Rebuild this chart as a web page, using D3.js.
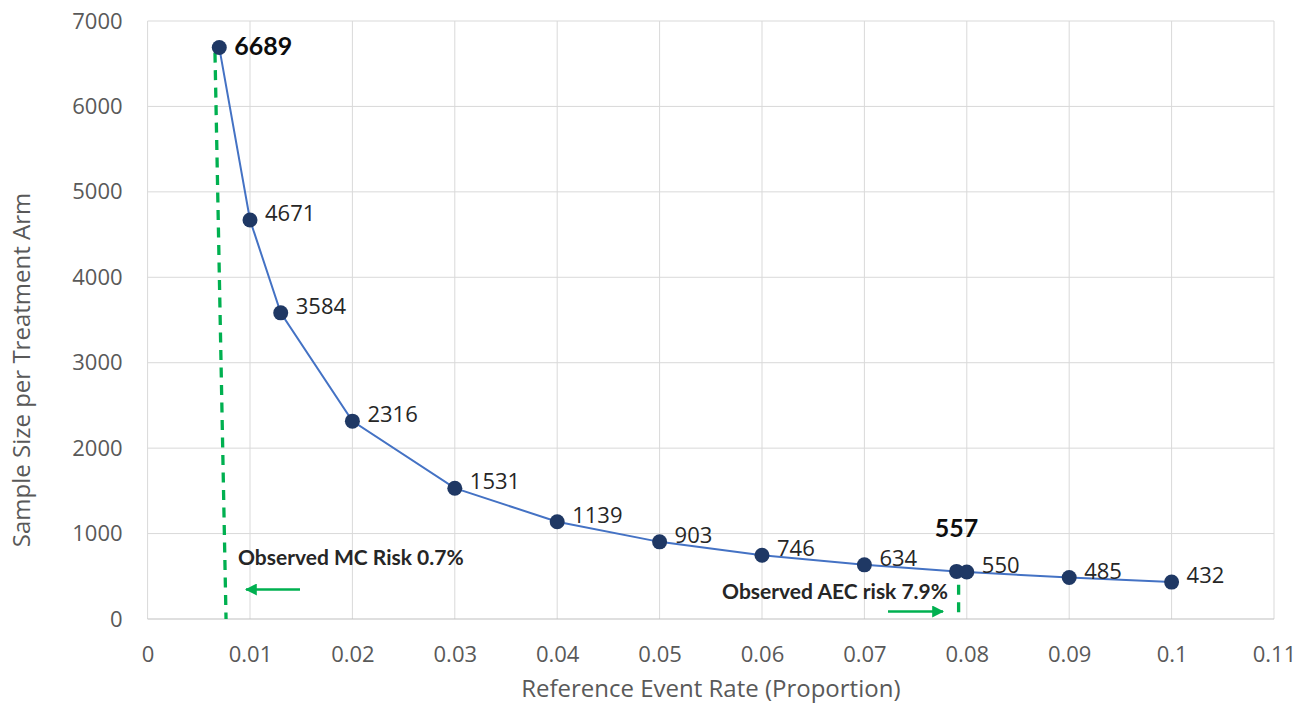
<!DOCTYPE html>
<html><head><meta charset="utf-8">
<script src="https://cdn.jsdelivr.net/npm/d3@7"></script>
<style>body{margin:0;background:#fff;} svg{display:block;font-family:"Open Sans",sans-serif;}</style>
</head><body>
<svg id="c" width="1307" height="703"></svg>
<script>
const rates = [0.007, 0.01, 0.013, 0.02, 0.03, 0.04, 0.05, 0.06, 0.07, 0.079, 0.08, 0.09, 0.1];
const sizes = [6689, 4671, 3584, 2316, 1531, 1139, 903, 746, 634, 557, 550, 485, 432];
const highlighted = [6689, 557];
const xTicks = [0, 0.01, 0.02, 0.03, 0.04, 0.05, 0.06, 0.07, 0.08, 0.09, 0.1, 0.11];
const xTickLabels = ["0", "0.01", "0.02", "0.03", "0.04", "0.05", "0.06", "0.07", "0.08", "0.09", "0.1", "0.11"];
const yTicks = [0, 1000, 2000, 3000, 4000, 5000, 6000, 7000];
const mcLine = [[0.00658, 6630], [0.00766, 0]];
const aecLine = [[0.0792, 400], [0.0792, 0]];

const svg = d3.select("#c");
const L = 147.6, R = 1274, T = 21, B = 619;
const x = d3.scaleLinear().domain([0, 0.11]).range([L, R]);
const y = d3.scaleLinear().domain([0, 7000]).range([B, T]);
const green = "#00b050";

// grid
svg.append("g").selectAll("line").data(yTicks.filter(d => d > 0)).join("line")
  .attr("x1", L).attr("x2", R).attr("y1", d => y(d)).attr("y2", d => y(d))
  .attr("stroke", "#d9d9d9").attr("stroke-width", 1);
svg.append("g").selectAll("line").data(xTicks).join("line")
  .attr("x1", d => x(d)).attr("x2", d => x(d)).attr("y1", T).attr("y2", B)
  .attr("stroke", "#d9d9d9").attr("stroke-width", 1);
svg.append("line").attr("x1", L).attr("x2", R).attr("y1", B).attr("y2", B)
  .attr("stroke", "#bfbfbf").attr("stroke-width", 1.2);

// axes
const xAxis = d3.axisBottom(x).tickValues(xTicks).tickFormat((d, i) => xTickLabels[i]).tickSize(0).tickPadding(27);
const gx = svg.append("g").attr("transform", `translate(0,${B})`).call(xAxis);
gx.select(".domain").remove();
gx.selectAll("text").attr("font-size", 22).attr("fill", "#595959").attr("font-family", "'Open Sans',sans-serif");
const yAxis = d3.axisLeft(y).tickValues(yTicks).tickFormat(d3.format("d")).tickSize(0).tickPadding(25);
const gy = svg.append("g").attr("transform", `translate(${L},0)`).call(yAxis);
gy.select(".domain").remove();
gy.selectAll("text").attr("font-size", 22).attr("fill", "#595959").attr("font-family", "'Open Sans',sans-serif");

svg.append("text").attr("x", (L + R) / 2).attr("y", 697).attr("text-anchor", "middle")
  .attr("font-size", 24).attr("fill", "#595959").text("Reference Event Rate (Proportion)");
svg.append("text").attr("transform", `translate(30,370) rotate(-90)`).attr("text-anchor", "middle")
  .attr("font-size", 24).attr("fill", "#595959").text("Sample Size per Treatment Arm");

// green dashed lines
const gl = d3.line().x(d => x(d[0])).y(d => y(d[1]));
svg.append("path").attr("d", gl(mcLine)).attr("stroke", green).attr("stroke-width", 3.3)
  .attr("stroke-dasharray", "10,7.5").attr("fill", "none");
svg.append("path").attr("d", gl(aecLine)).attr("stroke", green).attr("stroke-width", 3.3)
  .attr("stroke-dasharray", "10,7.5").attr("fill", "none");

// series line
const data = rates.map((r, i) => ({ r, v: sizes[i] }));
svg.append("path").datum(data).attr("d", d3.line().x(d => x(d.r)).y(d => y(d.v)))
  .attr("fill", "none").attr("stroke", "#4472c4").attr("stroke-width", 2);
svg.append("g").selectAll("circle").data(data).join("circle")
  .attr("cx", d => x(d.r)).attr("cy", d => y(d.v)).attr("r", 7.5)
  .attr("fill", "#1f3864");

// labels
svg.append("g").selectAll("text").data(data).join("text")
  .attr("x", d => d.v === 557 ? x(d.r) : x(d.r) + 15)
  .attr("y", d => d.v === 557 ? y(d.v) - 44 : (d.v === 6689 ? y(d.v) - 3 : y(d.v) - 8))
  .attr("text-anchor", d => d.v === 557 ? "middle" : "start")
  .attr("dominant-baseline", "central")
  .attr("font-family", d => highlighted.includes(d.v) ? "Lato,sans-serif" : "'Open Sans',sans-serif")
  .attr("font-size", d => highlighted.includes(d.v) ? 25 : 22)
  .attr("font-weight", d => highlighted.includes(d.v) ? "bold" : "normal")
  .attr("fill", d => highlighted.includes(d.v) ? "#0d0d0d" : "#262626")
  .text(d => d.v);

// annotations
svg.append("defs").append("marker").attr("id", "ah").attr("viewBox", "0 0 10 10")
  .attr("refX", 9).attr("refY", 5).attr("markerWidth", 5).attr("markerHeight", 5)
  .attr("orient", "auto").append("path").attr("d", "M0,0 L10,5 L0,10 z").attr("fill", green);
svg.append("text").attr("x", 238).attr("y", 565).attr("font-family", "Lato,sans-serif")
  .attr("font-size", 21).attr("font-weight", "bold")
  .attr("fill", "#262626").text("Observed MC Risk 0.7%");
svg.append("line").attr("x1", 300).attr("y1", 589.5).attr("x2", 246).attr("y2", 589.5)
  .attr("stroke", green).attr("stroke-width", 2.4).attr("marker-end", "url(#ah)");
svg.append("text").attr("x", 948).attr("y", 599).attr("text-anchor", "end").attr("font-family", "Lato,sans-serif")
  .attr("font-size", 21).attr("font-weight", "bold")
  .attr("fill", "#262626").text("Observed AEC risk 7.9%");
svg.append("line").attr("x1", 888).attr("y1", 611.5).attr("x2", 943).attr("y2", 611.5)
  .attr("stroke", green).attr("stroke-width", 2.4).attr("marker-end", "url(#ah)");
</script>
</body></html>
